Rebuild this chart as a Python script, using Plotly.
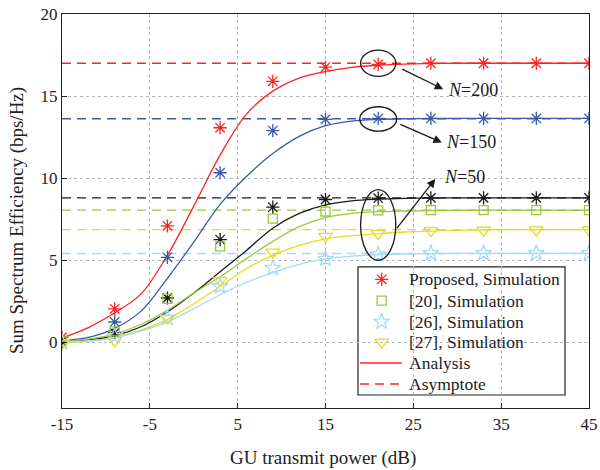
import plotly.graph_objects as go

# ---------------- data ----------------
power_sim = [-15, -9, -3, 3, 9, 15, 21, 27, 33, 39, 45]
power_ana = [-15, -12, -9, -6, -3, 0, 3, 6, 9, 12, 15, 18, 21, 24, 27, 30, 33, 36, 39, 42, 45]

sim_n200 = [0.3, 2.04, 7.1, 13.07, 15.9, 16.77, 16.93, 17.0, 17.0, 17.0, 17.0]
sim_n150 = [0.1, 1.24, 5.18, 10.33, 12.9, 13.58, 13.64, 13.64, 13.64, 13.64, 13.64]
sim_n50 = [0.05, 0.57, 2.7, 6.26, 8.23, 8.7, 8.78, 8.8, 8.8, 8.8, 8.8]
sim_ref20 = [0.05, 0.67, 2.65, 5.85, 7.54, 7.97, 8.04, 8.05, 8.05, 8.05, 8.05]
sim_ref26 = [0.0, 0.37, 1.49, 3.41, 4.53, 5.08, 5.35, 5.43, 5.43, 5.43, 5.43]
sim_ref27 = [-0.1, 0.1, 1.45, 3.78, 5.49, 6.46, 6.63, 6.81, 6.83, 6.85, 6.85]

ana_n200 = [0.27, 0.9, 1.8, 2.95, 5.3, 8.3, 11.4, 13.9, 15.3, 16.1, 16.5, 16.75, 16.88, 16.95, 16.98,
            17.0, 17.0, 17.0, 17.0, 17.0, 17.0]
ana_n150 = [0.1, 0.3, 0.85, 1.9, 3.9, 6.1, 8.4, 10.1, 11.5, 12.55, 13.2, 13.48, 13.58, 13.62, 13.63,
            13.64, 13.64, 13.64, 13.64, 13.64, 13.64]
ana_n50 = [0.05, 0.15, 0.4, 0.95, 1.85, 3.0, 4.3, 5.6, 6.95, 7.85, 8.38, 8.62, 8.72, 8.77, 8.79,
           8.8, 8.8, 8.8, 8.8, 8.8, 8.8]
ana_ref20 = [0.05, 0.2, 0.5, 1.1, 1.95, 3.0, 4.0, 5.1, 6.15, 7.05, 7.6, 7.86, 7.96, 8.0, 8.02,
             8.04, 8.05, 8.05, 8.05, 8.05, 8.05]
ana_ref26 = [0.0, 0.08, 0.28, 0.68, 1.25, 2.05, 2.9, 3.65, 4.25, 4.75, 5.08, 5.25, 5.33, 5.38, 5.4,
             5.42, 5.42, 5.42, 5.42, 5.42, 5.42]
ana_ref27 = [0.0, 0.08, 0.3, 0.75, 1.4, 2.35, 3.4, 4.5, 5.3, 5.9, 6.3, 6.5, 6.62, 6.72, 6.78,
             6.82, 6.85, 6.86, 6.86, 6.86, 6.86]

asym_n200 = 17.0
asym_n150 = 13.62
asym_n50 = 8.8
asym_ref20 = 8.05
asym_ref27 = 6.87
asym_ref26 = 5.41

x_range = [-15, 45]
y_range = [-4, 20]
x_ticks = [-15, -5, 5, 15, 25, 35, 45]
x_ticklabels = ["-15", "-5", "5", "15", "25", "35", "45"]
y_ticks = [0, 5, 10, 15, 20]
y_ticklabels = ["0", "5", "10", "15", "20"]

x_title = "GU transmit power (dB)"
y_title = "Sum Spectrum Efficiency (bps/Hz)"
legend_labels = ["Proposed, Simulation", "[20], Simulation", "[26], Simulation",
                 "[27], Simulation", "Analysis", "Asymptote"]

# ---------------- styles ----------------
RED = "#ff2222"
BLUE = "#3a5aa8"
BLACK = "#1a1a1a"
GREEN = "#98c93c"
YELLOW = "#e6da24"
LBLUE = "#a6daf2"
TXT = "#222"
FONT = "'Liberation Serif', 'Times New Roman', Times, serif"
DASH = "9px,6px"
LW = 1.3

fig = go.Figure()

# asymptotes
asyms = [(asym_n200, RED), (asym_n150, BLUE), (asym_n50, BLACK),
         (asym_ref20, GREEN), (asym_ref27, YELLOW), (asym_ref26, LBLUE)]
for val, col in asyms:
    fig.add_trace(go.Scatter(
        x=x_range, y=[val, val], mode="lines",
        line=dict(color=col, width=LW, dash=DASH), showlegend=False, hoverinfo="skip"))

# analysis curves
anas = [(ana_n200, RED), (ana_n150, BLUE), (ana_n50, BLACK),
        (ana_ref20, GREEN), (ana_ref27, YELLOW), (ana_ref26, LBLUE)]
for vals, col in anas:
    fig.add_trace(go.Scatter(
        x=power_ana, y=vals, mode="lines", line_shape="spline",
        line=dict(color=col, width=LW), showlegend=False, hoverinfo="skip"))

# simulation markers
SYM = {"ast": ("asterisk-open", 11), "sq": ("square-open", 9),
       "star": ("star-open", 12), "tri": ("triangle-down-open", 12)}
sims = [
    (sim_n200, RED, "ast"), (sim_n150, BLUE, "ast"), (sim_n50, BLACK, "ast"),
    (sim_ref20, GREEN, "sq"), (sim_ref26, LBLUE, "star"), (sim_ref27, YELLOW, "tri"),
]
for vals, col, key in sims:
    sym, sz = SYM[key]
    fig.add_trace(go.Scatter(
        x=power_sim, y=vals, mode="markers",
        marker=dict(symbol=sym, size=sz, color=col, line=dict(color=col, width=LW)),
        showlegend=False))

# ellipses
ellipses = [(19.0, 23.0, 16.2, 17.8), (18.9, 23.1, 12.86, 14.35), (19.0, 23.0, 5.0, 9.3)]
for x0, x1, y0, y1 in ellipses:
    fig.add_shape(type="circle", xref="x", yref="y", x0=x0, x1=x1, y0=y0, y1=y1,
                  line=dict(color=BLACK, width=LW))

# arrows (tail -> head)
arrows = [((23.57, 16.69), (28.4, 15.42)), ((23.35, 13.32), (28.25, 12.17)), ((23.0, 6.87), (27.5, 9.95))]
for (tx, ty), (hx, hy) in arrows:
    fig.add_annotation(x=hx, y=hy, ax=tx, ay=ty, xref="x", yref="y", axref="x", ayref="y",
                       text="", showarrow=True, arrowhead=2, arrowsize=1.3, arrowwidth=LW,
                       arrowcolor=BLACK)

# labels
labels = [(28.7, 15.37, "<i>N</i>=200"), (28.5, 12.18, "<i>N</i>=150"), (28.3, 10.05, "<i>N</i>=50")]
for lx, ly, txt in labels:
    fig.add_annotation(x=lx, y=ly, xref="x", yref="y", text=txt, showarrow=False,
                       xanchor="left", yanchor="middle",
                       font=dict(family=FONT, size=18, color=BLACK))

# ---------------- legend box (drawn in plot-area fractions) ----------------
LEG_X0, LEG_X1, LEG_Y0, LEG_Y1 = 0.5617, 0.9545, 0.033, 0.358
row_y = [0.3266, 0.2723, 0.2190, 0.1670, 0.1142, 0.0609]
sym_x = 0.6066
line_x0, line_x1 = 0.5655, 0.6446
text_x = 0.654

fig.add_shape(type="rect", xref="paper", yref="paper", x0=LEG_X0, x1=LEG_X1, y0=LEG_Y0, y1=LEG_Y1,
              line=dict(color=TXT, width=1.2), fillcolor="white", layer="between")
leg_markers = [(RED, "ast"), (GREEN, "sq"), (LBLUE, "star"), (YELLOW, "tri")]
for i, (col, key) in enumerate(leg_markers):
    sym, sz = SYM[key]
    fig.add_trace(go.Scatter(
        x=[sym_x], y=[row_y[i]], xaxis="x2", yaxis="y2", mode="markers",
        marker=dict(symbol=sym, size=sz, color=col, line=dict(color=col, width=LW)),
        showlegend=False, hoverinfo="skip", cliponaxis=False))
fig.add_shape(type="line", xref="paper", yref="paper", x0=line_x0, x1=line_x1,
              y0=row_y[4], y1=row_y[4], line=dict(color=RED, width=LW))
fig.add_shape(type="line", xref="paper", yref="paper", x0=line_x0, x1=line_x1,
              y0=row_y[5], y1=row_y[5], line=dict(color=RED, width=LW, dash=DASH))
for i, txt in enumerate(legend_labels):
    fig.add_annotation(x=text_x, y=row_y[i], xref="paper", yref="paper", text=txt,
                       showarrow=False, xanchor="left", yanchor="middle",
                       font=dict(family=FONT, size=17.5, color=TXT))

# axis titles
fig.add_annotation(x=0.4958, y=-0.1269, xref="paper", yref="paper", text=x_title,
                   showarrow=False, xanchor="center", yanchor="middle",
                   font=dict(family=FONT, size=19, color=TXT))
fig.add_annotation(x=-0.0854, y=0.477, xref="paper", yref="paper", text=y_title, textangle=-90,
                   showarrow=False, xanchor="center", yanchor="middle",
                   font=dict(family=FONT, size=19, color=TXT))

axis_common = dict(
    showline=True, linecolor=TXT, linewidth=1.3, mirror=True,
    ticks="inside", ticklen=5, tickcolor=TXT, tickwidth=1.2,
    showgrid=True, gridcolor="#b8b8b8", griddash="dot", gridwidth=1,
    zeroline=False, automargin=False, tickfont=dict(family=FONT, size=17, color=TXT),
)

fig.update_layout(
    xaxis=dict(range=x_range, tickvals=x_ticks, ticktext=x_ticklabels, **axis_common),
    yaxis=dict(range=y_range, tickvals=y_ticks, ticktext=y_ticklabels, **axis_common),
    xaxis2=dict(overlaying="x", range=[0, 1], visible=False, fixedrange=True, automargin=False),
    yaxis2=dict(overlaying="y", range=[0, 1], visible=False, fixedrange=True, automargin=False),
    width=600, height=470, autosize=False,
    margin=dict(l=62, r=11, t=14, b=62, autoexpand=False),
    paper_bgcolor="white", plot_bgcolor="white",
    font=dict(family=FONT, size=16, color=TXT),
    showlegend=False,
)

fig.write_html("out.html", config={"displayModeBar": False, "responsive": False},
               post_script="document.body.style.margin='0';")
